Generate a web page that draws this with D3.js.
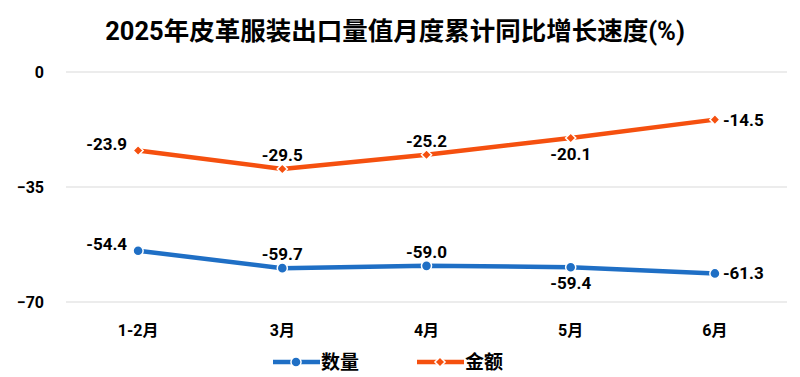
<!DOCTYPE html>
<html>
<head>
<meta charset="utf-8">
<script src="https://cdn.jsdelivr.net/npm/d3@7"></script>
<style>
  body { margin: 0; background: #fff; }
  text { font-family: Roboto, "Noto Sans CJK SC", sans-serif; font-weight: 700; fill: #000; }
</style>
</head>
<body>
<div id="chart"></div>
<script>
var categories = ["1-2月", "3月", "4月", "5月", "6月"];
var qtyValues = [-54.4, -59.7, -59.0, -59.4, -61.3];
var amtValues = [-23.9, -29.5, -25.2, -20.1, -14.5];
var yTicks = [0, -35, -70];
var seriesNames = ["数量", "金额"];
// label placement per point: l = left, t = top, b = bottom, r = right
var qtyLabelPos = ["l", "t", "t", "b", "r"];
var amtLabelPos = ["l", "t", "t", "b", "r"];

var width = 800, height = 377;
var blue = "#1f6fc5", orange = "#f5500f";

var svg = d3.select("#chart").append("svg")
  .attr("width", width)
  .attr("height", height);

svg.append("text")
  .attr("x", 395).attr("y", 40)
  .attr("text-anchor", "middle")
  .style("font-size", "25.5px")
  .text("2025年皮革服装出口量值月度累计同比增长速度(%)");

var x = d3.scaleBand()
  .domain(categories)
  .range([66, 787]);

var y = d3.scaleLinear()
  .domain([-70, 0])
  .range([302, 72]);

// grid lines
svg.append("g")
  .selectAll("line")
  .data(yTicks)
  .join("line")
  .attr("x1", 66).attr("x2", 787)
  .attr("y1", function(d) { return y(d); })
  .attr("y2", function(d) { return y(d); })
  .attr("stroke", "#d9d9d9")
  .attr("stroke-width", 1.2);

// y axis labels
var yAxis = svg.append("g")
  .attr("transform", "translate(44,0)")
  .call(d3.axisLeft(y).tickValues(yTicks).tickSize(0).tickPadding(0));
yAxis.select(".domain").remove();
yAxis.selectAll("text").style("font-size", "16px").attr("dy", "0.35em");

// x axis labels
var xAxis = svg.append("g")
  .attr("transform", "translate(0,336)")
  .call(d3.axisBottom(x).tickSize(0).tickPadding(0));
xAxis.select(".domain").remove();
xAxis.selectAll("text").style("font-size", "16px").attr("y", 0).attr("dy", 0);

function cx(i) { return x(categories[i]) + x.bandwidth() / 2; }

function drawSeries(values, color, shape, labelPos) {
  var line = d3.line()
    .x(function(d, i) { return cx(i); })
    .y(function(d) { return y(d); });

  svg.append("path")
    .datum(values)
    .attr("fill", "none")
    .attr("stroke", color)
    .attr("stroke-width", 4.5)
    .attr("stroke-linejoin", "round")
    .attr("d", line);

  var sym = d3.symbol()
    .type(shape === "circle" ? d3.symbolCircle : d3.symbolDiamond2)
    .size(shape === "circle" ? 80 : 65);

  svg.append("g")
    .selectAll("path")
    .data(values)
    .join("path")
    .attr("transform", function(d, i) { return "translate(" + cx(i) + "," + y(d) + ")"; })
    .attr("d", sym)
    .attr("fill", color)
    .attr("stroke", "#fff")
    .attr("stroke-width", 1.5);

  svg.append("g")
    .selectAll("text")
    .data(values)
    .join("text")
    .style("font-size", "17px")
    .attr("x", function(d, i) {
      var p = labelPos[i];
      if (p === "l") return cx(i) - 11;
      if (p === "r") return cx(i) + 8;
      return cx(i);
    })
    .attr("y", function(d, i) {
      var p = labelPos[i];
      if (p === "t") return y(d) - 8;
      if (p === "b") return y(d) + 22;
      if (p === "l") return y(d) - 1;
      return y(d) + 6;
    })
    .attr("text-anchor", function(d, i) {
      var p = labelPos[i];
      return p === "l" ? "end" : p === "r" ? "start" : "middle";
    })
    .text(function(d) { return d.toFixed(1); });
}

drawSeries(amtValues, orange, "diamond", amtLabelPos);
drawSeries(qtyValues, blue, "circle", qtyLabelPos);

// legend
var legend = [
  { name: seriesNames[0], color: blue, shape: "circle", x: 273 },
  { name: seriesNames[1], color: orange, shape: "diamond", x: 417 }
];
var lg = svg.append("g").selectAll("g")
  .data(legend)
  .join("g")
  .attr("transform", function(d) { return "translate(" + d.x + ",362)"; });
lg.append("line")
  .attr("x1", 0).attr("x2", 47)
  .attr("stroke", function(d) { return d.color; })
  .attr("stroke-width", 4.5);
lg.append("path")
  .attr("transform", "translate(23,0)")
  .attr("d", function(d) {
    return d3.symbol().type(d.shape === "circle" ? d3.symbolCircle : d3.symbolDiamond2)
      .size(d.shape === "circle" ? 80 : 65)();
  })
  .attr("fill", function(d) { return d.color; })
  .attr("stroke", "#fff")
  .attr("stroke-width", 1.5);
lg.append("text")
  .attr("x", 48).attr("y", 7)
  .style("font-size", "19px")
  .text(function(d) { return d.name; });
</script>
</body>
</html>
